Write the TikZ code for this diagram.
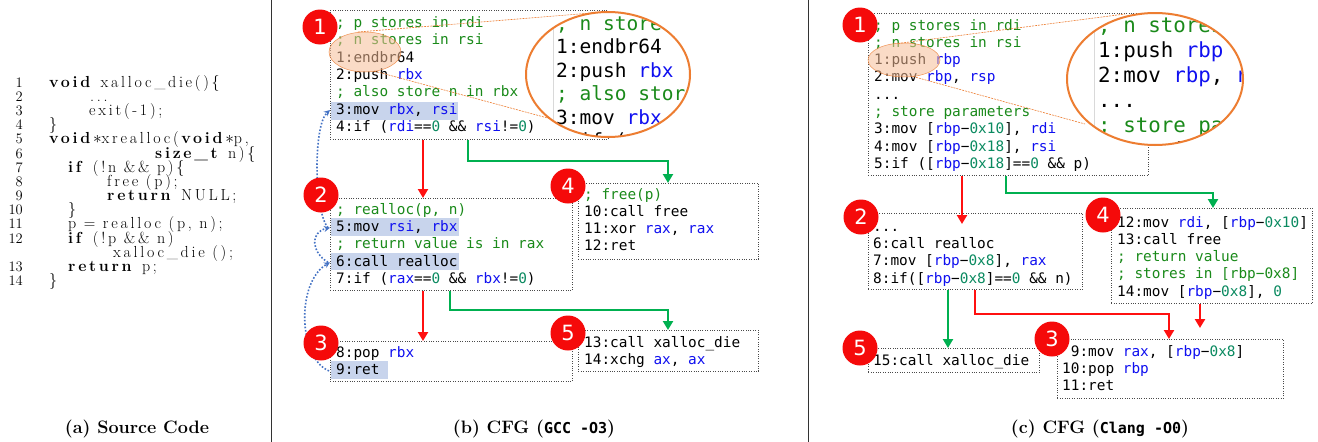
\documentclass[tikz,border=0pt]{standalone}
\usepackage{fontspec}
\usetikzlibrary{arrows.meta,calc}
\setmonofont{DejaVu Sans Mono}
\newfontfamily\badgefont{DejaVu Sans}
\newfontfamily\srcfont[LetterSpace=17]{Latin Modern Roman}
\definecolor{cgreen}{HTML}{1A8A1A}
\definecolor{cblue}{HTML}{1010F0}
\definecolor{cteal}{HTML}{0A8A60}
\definecolor{hl}{HTML}{C8D4EC}
\definecolor{badgered}{HTML}{F50A0A}
\definecolor{arrred}{HTML}{FF1010}
\definecolor{arrgreen}{HTML}{00B050}
\definecolor{orng}{HTML}{ED7D31}
\definecolor{dotblue}{HTML}{4472C4}
\definecolor{boxgray}{HTML}{4A4A4A}
\newcommand\cmtx[1]{\textcolor{cgreen}{#1}}
\newcommand\regx[1]{\textcolor{cblue}{#1}}
\newcommand\numx[1]{\textcolor{cteal}{#1}}
\tikzset{
  code/.style={anchor=base west, inner sep=0pt, font=\ttfamily\fontsize{14.4}{17}\selectfont, text height=10.8pt, text depth=3pt},
  bigcode/.style={anchor=base west, inner sep=0pt, font=\ttfamily\fontsize{19.5}{23}\selectfont},
  bigcodec/.style={anchor=base west, inner sep=0pt, font=\ttfamily\fontsize{20.8}{25}\selectfont},
  blk/.style={draw=boxgray, line width=0.8pt, dash pattern=on 1pt off 1.4pt, inner sep=0pt, anchor=north west},
  badge/.style={circle, fill=badgered, text=white, font=\badgefont\fontsize{21}{21}\selectfont, minimum size=35pt, inner sep=0pt},
  redarr/.style={draw=arrred, line width=2.5pt, -{Triangle[length=9pt,width=10pt]}},
  greenarr/.style={draw=arrgreen, line width=2.5pt, -{Triangle[length=9pt,width=10pt]}},
  flow/.style={draw=dotblue, line width=1.6pt, dash pattern=on 1.6pt off 1.8pt, -{Stealth[length=6pt,width=6pt]}},
  hlbox/.style={fill=hl},
  src/.style={anchor=base west, inner sep=0pt, font=\srcfont\fontsize{16}{18}\selectfont},
  srcnum/.style={anchor=base east, inner sep=0pt, font=\rmfamily\fontsize{14.5}{16}\selectfont},
  capt/.style={anchor=base, inner sep=0pt, font=\bfseries\fontsize{18}{20}\selectfont},
  zoomring/.style={draw=orng, line width=2pt},
  spot/.style={fill=orng!50, fill opacity=0.55, draw=orng, draw opacity=0.8, line width=0.5pt},
  leader/.style={draw=orng, line width=0.6pt, dash pattern=on 2pt off 1pt},
  sepline/.style={draw=black!80, line width=0.8pt},
  zoomedge/.style={draw=black!15, line width=1pt}
}
\begin{document}
\begin{tikzpicture}[x=1pt,y=-1pt]
\useasboundingbox (0,0) rectangle (1318,442);
\fill[white] (0,0) rectangle (1318,442);

% ---------- separators ----------
\draw[sepline] (271,0) -- (271,442);
\draw[sepline] (808,0) -- (808,442);

% ---------- (a) source code ----------
\foreach \n/\yy in {1/87.2,2/101.4,3/115.5,4/129.7,5/143.9,6/158.0,7/172.2,8/186.4,9/200.5,10/214.7,11/228.9,12/243.0,13/271.4,14/285.5}
  \node[srcnum] (num\n) at (23,\yy) {\n};
\node[src] (s1) at (49,87.2) {\textbf{void} xalloc\_die()\{};
\node[src] (s2) at (90,101.4) {...};
\node[src] (s3) at (89,115.5) {exit(-1);};
\node[src] (s4) at (49,129.7) {\}};
\node[src] (s5) at (49,143.9) {\textbf{void}$\ast$xrealloc(\textbf{void}$\ast$p,};
\node[src] (s6) at (155,158.0) {\textbf{size\_t} n)\{};
\node[src] (s7) at (68,172.2) {\textbf{if} (!n \&\& p)\{};
\node[src] (s8) at (107,186.4) {free (p);};
\node[src] (s9) at (107,200.5) {\textbf{return} NULL;};
\node[src] (s10) at (68,214.7) {\}};
\node[src] (s11) at (68,228.9) {p = realloc (p, n);};
\node[src] (s12) at (68,243.0) {\textbf{if} (!p \&\& n)};
\node[src] (s12b) at (113,257.2) {xalloc\_die ();};
\node[src] (s13) at (68,271.4) {\textbf{return} p;};
\node[src] (s14) at (49,285.5) {\}};

% ---------- (b) GCC CFG ----------
\node[blk, minimum width=278pt, minimum height=129pt] (B1) at (330,10) {};
\node[blk, minimum width=242pt, minimum height=92pt] (B2) at (330,198) {};
\node[blk, minimum width=242pt, minimum height=40pt] (B3) at (330,341) {};
\node[blk, minimum width=180pt, minimum height=76pt] (B4) at (578,183) {};
\node[blk, minimum width=180pt, minimum height=41pt] (B5) at (578,330) {};

\fill[hlbox] (331,101.5) rectangle (458,119.5);
\fill[hlbox] (331,218.1) rectangle (459,235.6);
\fill[hlbox] (331,252.7) rectangle (459,270.2);
\fill[hlbox] (331,361.3) rectangle (388,378.8);

\node[code] (b1a) at (336,27.5) {\cmtx{; p stores in rdi}};
\node[code] (b1b) at (336,44.8) {\cmtx{; n stores in rsi}};
\node[code] (b1c) at (336,62.1) {1:endbr64};
\node[code] (b1d) at (336,79.4) {2:push \regx{rbx}};
\node[code] (b1e) at (336,96.7) {\cmtx{; also store n in rbx}};
\node[code] (b1f) at (336,114) {3:mov \regx{rbx}, \regx{rsi}};
\node[code] (b1g) at (336,131.3) {4:if (\regx{rdi}==\numx{0} \&\& \regx{rsi}!=\numx{0})};

\node[code] (b2a) at (336,214.3) {\cmtx{; realloc(p, n)}};
\node[code] (b2b) at (336,231.6) {5:mov \regx{rsi}, \regx{rbx}};
\node[code] (b2c) at (336,248.9) {\cmtx{; return value is in rax}};
\node[code] (b2d) at (336,266.2) {6:call realloc};
\node[code] (b2e) at (336,283.5) {7:if (\regx{rax}==\numx{0} \&\& \regx{rbx}!=\numx{0})};

\node[code] (b3a) at (336,357.5) {8:pop \regx{rbx}};
\node[code] (b3b) at (336,374.8) {9:ret};

\node[code] (b4a) at (584,199) {\cmtx{; free(p)}};
\node[code] (b4b) at (584,216.3) {10:call free};
\node[code] (b4c) at (584,233.6) {11:xor \regx{rax}, \regx{rax}};
\node[code] (b4d) at (584,250.9) {12:ret};

\node[code] (b5a) at (584,347) {13:call xalloc\_die};
\node[code] (b5b) at (584,364.3) {14:xchg \regx{ax}, \regx{ax}};

\draw[redarr] (423,0 |- B1.south) -- (423,0 |- B2.north);
\draw[redarr] (423,0 |- B2.south) -- (423,0 |- B3.north);
\draw[greenarr] (468,0 |- B1.south) -- (468,161) -| (668,0 |- B4.north);
\draw[greenarr] (450,0 |- B2.south) -- (450,310) -| (668,0 |- B5.north);

\draw[flow] ([xshift=-8pt]b2b.west) .. controls (314,212) and (313,125) .. ([xshift=-6pt]b1f.west);
\draw[flow] ([xshift=-8pt]b2d.west) .. controls (311,252) and (310,232) .. ([xshift=-6pt]b2b.west);
\draw[flow] ([xshift=-7pt]b3b.west) .. controls (298,358) and (296,282) .. ([xshift=-6pt]b2d.west);

\node[badge] (gb1) at (320,27) {1};
\node[badge] (gb2) at (321,195) {2};
\node[badge] (gb3) at (321,343) {3};
\node[badge] (gb4) at (568,186) {4};
\node[badge] (gb5) at (568,333) {5};

\path[spot] (365,52) ellipse [x radius=36pt, y radius=20pt];
\draw[leader] (358,32) -- (600,12.3);
\draw[leader] (374,71) -- (555,120);
\begin{scope}
  \clip (608,74.5) ellipse [x radius=82pt, y radius=62.5pt];
  \fill[white] (608,74.5) ellipse [x radius=82pt, y radius=62.5pt];
  \draw[zoomedge] (553,0) -- (553,150);
  \node[bigcode] (zb1) at (556,30) {\cmtx{; n stores in rsi}};
  \node[bigcode] (zb2) at (556,53.5) {1:endbr64};
  \node[bigcode] (zb3) at (556,77) {2:push \regx{rbx}};
  \node[bigcode] (zb4) at (556,100.5) {\cmtx{; also store n in rbx}};
  \node[bigcode] (zb5) at (556,124) {3:mov \regx{rbx}, \regx{rsi}};
  \node[bigcode] (zb6) at (556,147.5) {4:if (\regx{rdi}==\numx{0} \&\& \regx{rsi}!=\numx{0})};
\end{scope}
\draw[zoomring] (608,74.5) ellipse [x radius=82pt, y radius=62.5pt];

% ---------- (c) Clang CFG ----------
\node[blk, minimum width=280pt, minimum height=162pt] (C1) at (868,13) {};
\node[blk, minimum width=214pt, minimum height=76pt] (C2) at (868,213) {};
\node[blk, minimum width=226pt, minimum height=59pt] (C3) at (1057,339) {};
\node[blk, minimum width=201pt, minimum height=95pt] (C4) at (1111,208) {};
\node[blk, minimum width=171pt, minimum height=24pt] (C5) at (868,348) {};

\node[code] (c1a) at (874,30) {\cmtx{; p stores in rdi}};
\node[code] (c1b) at (874,47.3) {\cmtx{; n stores in rsi}};
\node[code] (c1c) at (874,64.6) {1:push \regx{rbp}};
\node[code] (c1d) at (874,81.9) {2:mov \regx{rbp}, \regx{rsp}};
\node[code] (c1e) at (874,99.2) {...};
\node[code] (c1f) at (874,116.5) {\cmtx{; store parameters}};
\node[code] (c1g) at (874,133.8) {3:mov [\regx{rbp}−\numx{0x10}], \regx{rdi}};
\node[code] (c1h) at (874,151.1) {4:mov [\regx{rbp}−\numx{0x18}], \regx{rsi}};
\node[code] (c1i) at (874,168.4) {5:if ([\regx{rbp}−\numx{0x18}]==\numx{0} \&\& p)};

\node[code] (c2a) at (873,231.5) {...};
\node[code] (c2b) at (873,248.7) {6:call realloc};
\node[code] (c2c) at (873,265.9) {7:mov [\regx{rbp}−\numx{0x8}], \regx{rax}};
\node[code] (c2d) at (873,283.1) {8:if([\regx{rbp}−\numx{0x8}]==\numx{0} \&\& n)};

\node[code] (c4a) at (1117,227) {12:mov \regx{rdi}, [\regx{rbp}−\numx{0x10}]};
\node[code] (c4b) at (1117,244.3) {13:call free};
\node[code] (c4c) at (1117,261.6) {\cmtx{; return value}};
\node[code] (c4d) at (1117,278.9) {\cmtx{; stores in [rbp−0x8]}};
\node[code] (c4e) at (1117,296.2) {14:mov [\regx{rbp}−\numx{0x8}], \numx{0}};

\node[code] (c5a) at (873,365) {15:call xalloc\_die};

\node[code] (c3a) at (1062,356) {\hphantom{1}9:mov \regx{rax}, [\regx{rbp}−\numx{0x8}]};
\node[code] (c3b) at (1062,373.3) {10:pop \regx{rbp}};
\node[code] (c3c) at (1062,390.6) {11:ret};

\coordinate (c2in) at (962,224);
\coordinate (c3stop) at (1200,328);
\draw[redarr] (962,0 |- C1.south) -- (c2in);
\draw[greenarr] (1006,0 |- C1.south) -- (1006,193) -| (1213,0 |- C4.north);
\draw[redarr] (975,0 |- C2.south) -- (975,314) -| (1169,0 |- C3.north);
\draw[greenarr] (948,0 |- C2.south) -- (948,0 |- C5.north);
\draw[redarr] (1200,0 |- C4.south) -- (c3stop);

\node[badge] (gc1) at (860,25) {1};
\node[badge] (gc2) at (861,217) {2};
\node[badge] (gc3) at (1052,339) {3};
\node[badge] (gc4) at (1103,215) {4};
\node[badge] (gc5) at (860,348) {5};

\path[spot] (904,60) ellipse [x radius=36pt, y radius=17pt];
\draw[leader] (898,43.5) -- (1125,14);
\draw[leader] (913,76.5) -- (1085,124);
\begin{scope}
  \clip (1155,79) ellipse [x radius=88pt, y radius=66pt];
  \fill[white] (1155,79) ellipse [x radius=88pt, y radius=66pt];
  \draw[zoomedge] (1094,0) -- (1094,160);
  \node[bigcodec] (zc1) at (1098,32.5) {\cmtx{; n stores}};
  \node[bigcodec] (zc2) at (1098,57.5) {1:push \regx{rbp}};
  \node[bigcodec] (zc3) at (1098,82.5) {2:mov \regx{rbp}, \regx{rsp}};
  \node[bigcodec] (zc4) at (1098,107.5) {...};
  \node[bigcodec] (zc5) at (1098,132.5) {\cmtx{; store par}};
  \node[bigcodec] (zc6) at (1098,157.5) {3:mov [\regx{rbp}};
\end{scope}
\draw[zoomring] (1155,79) ellipse [x radius=88pt, y radius=66pt];

% ---------- captions ----------
\node[capt] (capa) at (137,433) {(a) Source Code};
\node[capt] (capb) at (534,433) {(b) CFG ({\ttfamily\bfseries\fontsize{15}{18}\selectfont GCC -O3})};
\node[capt] (capc) at (1100,433) {(c) CFG ({\ttfamily\bfseries\fontsize{15}{18}\selectfont Clang -O0})};
\end{tikzpicture}
\end{document}
